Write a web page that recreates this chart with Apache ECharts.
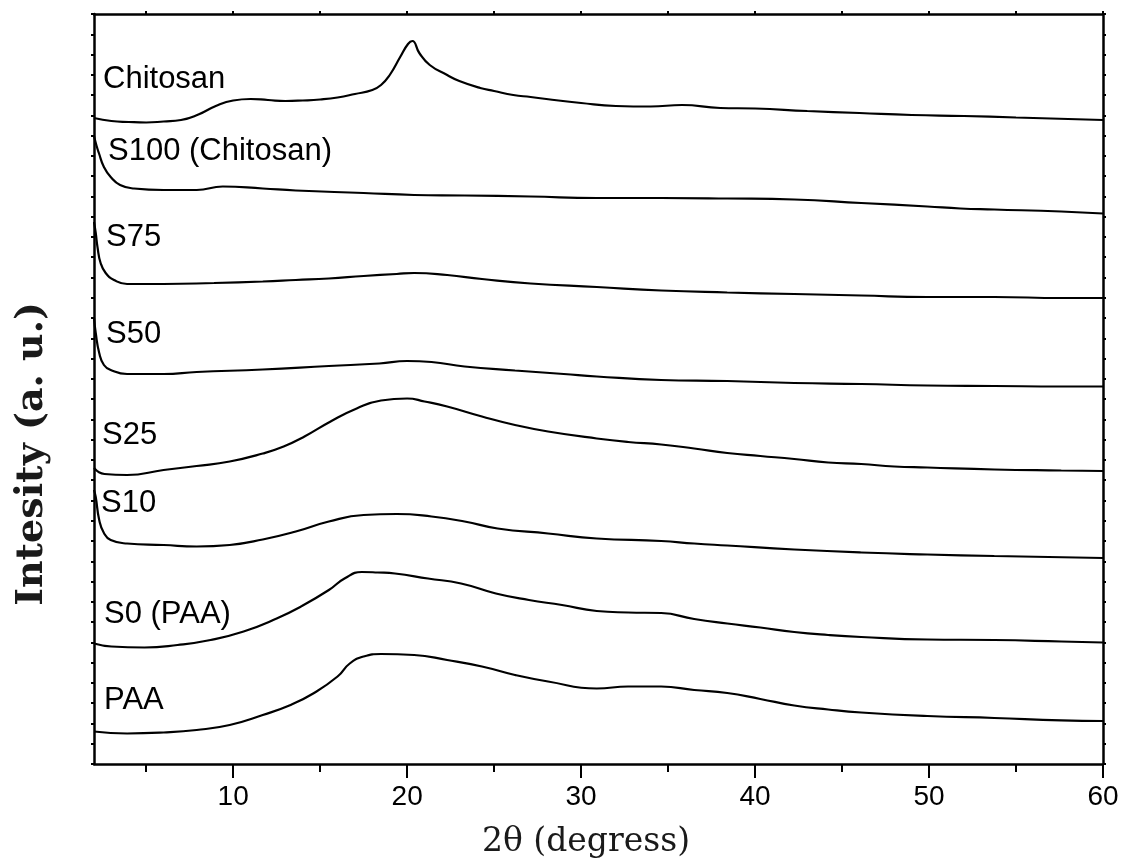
<!DOCTYPE html>
<html lang="en">
<head>
    <meta charset="UTF-8">
    <title>XRD patterns</title>
    <script src="https://cdn.jsdelivr.net/npm/echarts@6.0.0/dist/echarts.min.js"></script>
    <style>
        body { margin: 0; background: #fff; }
        #chart { width: 1125px; height: 866px; }
    </style>
</head>
<body>
<div id="chart"></div>
<script type="text/javascript">
// 2theta (deg) vs intensity (a.u., stacked offsets)
const seriesNames = ['Chitosan', 'S100 (Chitosan)', 'S75', 'S50', 'S25', 'S10', 'S0 (PAA)', 'PAA'];

const chitosan = [[2, 646], [3, 643], [4, 642], [5, 641.5], [6, 642.5], [7, 644], [8, 649.5], [9, 658], [10, 663.5],
    [11, 665], [12, 664], [13, 663], [14, 663.5], [15, 664.5], [16, 666.5], [17, 670], [18, 674], [18.5, 679],
    [19, 689], [19.6, 707], [20.05, 720], [20.3, 723], [20.7, 711], [21.3, 699], [22.3, 689], [23, 683],
    [24.2, 676], [25, 673], [26.1, 669], [27.1, 667], [28, 665], [30, 661], [32, 658], [34, 657.5], [35.8, 659],
    [38, 656], [40, 655.5], [43, 653], [46, 651], [49, 649], [52, 648], [55, 646.5], [58, 645], [60, 644]];

const s100 = [[2, 628], [2.15, 618], [2.28, 611], [2.57, 597], [2.96, 587], [3.5, 579], [4.3, 575.5], [6, 574],
    [7.9, 574], [9.4, 577.5], [11.7, 575.5], [13.6, 573.5], [17.5, 571], [20.4, 569], [23.3, 568.5], [27.1, 567.5],
    [30.9, 566], [34.6, 566], [38.4, 565.5], [42.25, 564.5], [46.1, 561], [49.9, 557.5], [51.8, 555.5],
    [53.75, 554.5], [57.6, 552.5], [60, 550.5]];

const s75 = [[2, 542], [2.1, 531], [2.2, 517], [2.38, 501], [2.67, 491], [3.15, 484], [3.9, 480], [6, 480],
    [8.9, 481], [11.7, 482.5], [13.6, 484], [15.5, 485.5], [17.5, 488], [19.4, 490], [20.4, 491], [22.3, 489],
    [24.3, 485], [27.1, 480.5], [30.9, 477], [34.6, 473.5], [38.4, 471.5], [42.25, 470], [46.1, 468.5],
    [49.9, 467], [53.75, 467], [57.6, 466], [60, 466]];

const s50 = [[2, 446], [2.1, 431], [2.3, 411], [2.57, 399], [2.96, 394], [3.9, 390], [6, 390], [7.9, 392],
    [11.7, 394.5], [15.5, 398], [18.4, 400.5], [20, 403], [21.4, 402], [23.3, 397.5], [26.2, 393.5], [29, 390],
    [30.9, 387.5], [34.6, 384], [38.4, 383], [42.25, 381], [46.1, 380], [49.9, 378.5], [53.75, 378],
    [57.6, 377.5], [60, 377.5]];

const s25 = [[2, 296], [2.6, 290], [3.9, 289], [6, 294], [7.9, 298], [9.8, 302.5], [11.7, 310.5], [12.9, 317.5],
    [14.1, 327.5], [15.6, 342.5], [17.1, 355.5], [18.5, 363.5], [20, 365.5], [21, 362.5], [22.3, 357.5],
    [24.3, 347.5], [26.2, 339], [28.1, 332.5], [30.9, 325.5], [32.7, 322], [34.6, 319.5], [36.5, 315.5],
    [38.4, 311], [40.3, 308], [42.25, 305], [44.2, 301.5], [46.1, 300], [48, 297.5], [49.9, 296.5],
    [53.75, 294.5], [57.6, 293.5], [60, 293]];

const s10 = [[2, 274], [2.1, 267], [2.3, 244], [2.57, 231], [2.96, 224], [3.9, 220.5], [6, 219], [7.9, 217.5],
    [9.8, 219], [11.7, 224.5], [13.6, 232.5], [15.5, 242.5], [17.5, 249], [19.4, 250], [21.4, 247.5],
    [23.3, 242.5], [25.2, 235.5], [28.1, 230.5], [30.9, 225.5], [34.6, 223], [36.5, 220.5], [38.4, 218.5],
    [42.25, 214.5], [46.1, 211.5], [49.9, 209.5], [53.75, 208], [60, 206]];

const s0 = [[2, 120.5], [3, 117.5], [4.9, 116.5], [6.8, 119], [8.7, 124], [10.6, 132.5], [12.5, 145.5],
    [13.9, 157.5], [15.5, 174], [16.4, 185.5], [17.4, 192], [18.3, 191.5], [19.3, 190.5], [21.2, 185.5],
    [23.1, 180.5], [25.1, 170.5], [27, 164], [28.9, 159], [30.9, 153], [32.7, 151.5], [34.6, 151], [36.5, 145],
    [38.4, 140.5], [40.3, 136.5], [42.25, 132], [44.2, 129], [46.1, 127], [49.9, 124.5], [53.75, 124],
    [57.6, 122.5], [60, 121.5]];

const paa = [[2, 32.5], [3.9, 30.5], [6, 31.5], [7.9, 34], [9.8, 39], [11.7, 49], [13.3, 59], [14.6, 70.5],
    [16, 87.5], [16.7, 100.5], [17.5, 107.5], [18.5, 110], [20.4, 109], [22.3, 104], [24.3, 97.5], [26.2, 89],
    [28.1, 82.5], [30.9, 75.5], [32.7, 77.5], [34.6, 77.5], [36.5, 74], [38.4, 71], [40.3, 65], [42.25, 58.5],
    [44.2, 54.5], [46.1, 51.5], [49.9, 48], [53.75, 46], [57.6, 43.7], [60, 43]];

const majorTicks = [10, 20, 30, 40, 50, 60];
const minorTicks = [5, 15, 25, 35, 45, 55];

const allSeries = [chitosan, s100, s75, s50, s25, s10, s0, paa];

// label anchor (left edge, vertical middle) in pixels
const labelPos = [[103, 79], [108, 151], [106, 237], [106, 334], [102, 435], [101, 503], [104, 614], [104, 700]];

var chart = echarts.init(document.getElementById('chart'));

var axisColor = '#000';
var sans = '"Liberation Sans", Arial, sans-serif';
var serif = '"DejaVu Serif", serif';

var option = {
    backgroundColor: '#fff',
    animation: false,
    grid: { left: 94, right: 22, top: 14, bottom: 102 },
    xAxis: [
        {
            type: 'value', position: 'bottom', min: 2, max: 60,
            axisLine: { lineStyle: { color: axisColor, width: 2.5 } },
            axisTick: { customValues: majorTicks, length: 14, lineStyle: { color: axisColor, width: 2 } },
            axisLabel: { customValues: majorTicks, color: '#000', fontFamily: sans, fontSize: 28, margin: 19 },
            splitLine: { show: false }
        },
        {
            type: 'value', position: 'bottom', min: 2, max: 60,
            axisLine: { show: false },
            axisTick: { customValues: minorTicks, length: 8, lineStyle: { color: axisColor, width: 2 } },
            axisLabel: { show: false },
            splitLine: { show: false }
        },
        {
            type: 'value', position: 'top', min: 2, max: 60,
            axisLine: { lineStyle: { color: axisColor, width: 2.5 } },
            axisTick: { customValues: majorTicks.concat(minorTicks), length: 3, lineStyle: { color: axisColor, width: 2 } },
            axisLabel: { show: false },
            splitLine: { show: false }
        }
    ],
    yAxis: [
        {
            type: 'value', position: 'left', min: 0, max: 750, interval: 750 / 37,
            axisLine: { show: true, lineStyle: { color: axisColor, width: 2.5 } },
            axisTick: { show: true, length: 3, lineStyle: { color: axisColor, width: 2 } },
            axisLabel: { show: false },
            splitLine: { show: false }
        },
        {
            type: 'value', position: 'right', min: 0, max: 750, interval: 750 / 37,
            axisLine: { show: true, lineStyle: { color: axisColor, width: 2.5 } },
            axisTick: { show: true, length: 3, lineStyle: { color: axisColor, width: 2 } },
            axisLabel: { show: false },
            splitLine: { show: false }
        }
    ],
    series: allSeries.map(function (d, i) {
        return {
            name: seriesNames[i],
            type: 'line',
            xAxisIndex: 0,
            yAxisIndex: 0,
            data: d,
            showSymbol: false,
            smooth: 0.5,
            lineStyle: { color: '#000', width: 2.2 }
        };
    }),
    graphic: seriesNames.map(function (name, i) {
        return {
            type: 'text', x: labelPos[i][0], y: labelPos[i][1],
            style: { text: name, font: '31px ' + sans, fill: '#000', textAlign: 'left', textVerticalAlign: 'middle' }
        };
    }).concat([
        {
            type: 'text', x: 586, y: 842,
            style: { text: '2θ (degress)', font: '33px ' + serif, fill: '#1a1a1a', textAlign: 'center', textVerticalAlign: 'middle' }
        },
        {
            type: 'text', x: 32, y: 454, rotation: Math.PI / 2,
            style: { text: 'Intesity (a. u.)', font: 'bold 38px ' + serif, fill: '#1a1a1a', textAlign: 'center', textVerticalAlign: 'middle' }
        }
    ])
};
chart.setOption(option);
</script>
</body>
</html>
